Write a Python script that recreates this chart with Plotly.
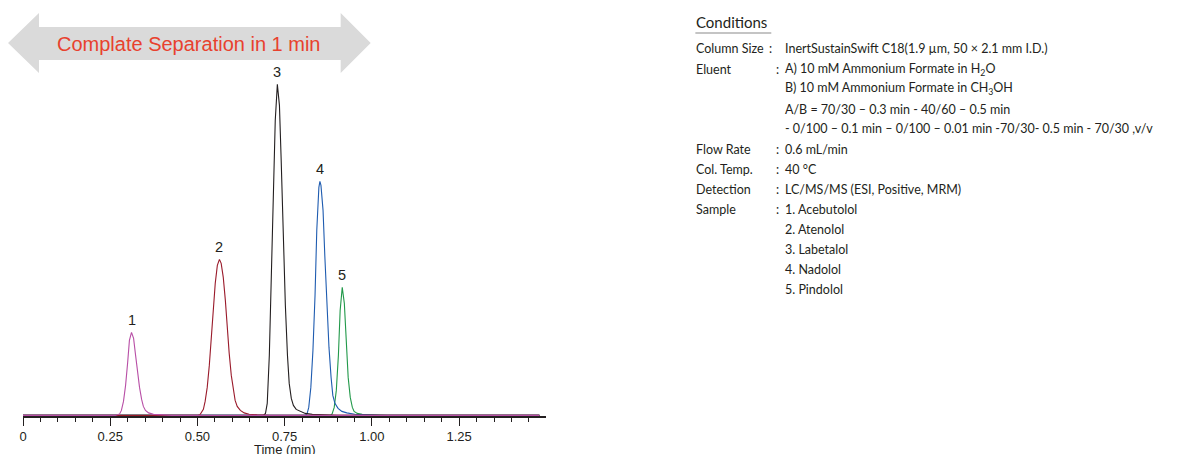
import plotly.graph_objects as go

# retention time (min) / detector response
t_acebutolol = [0.0, 0.265, 0.277, 0.282, 0.288, 0.294, 0.300, 0.305, 0.311, 0.317, 0.322, 0.328,
                0.334, 0.340, 0.345, 0.351, 0.360, 0.374, 0.397, 0.426, 1.48]
y_acebutolol = [0, 0, 1.5, 5, 14, 30, 53, 75, 83, 77, 62, 44,
                28, 16, 9, 5, 2.5, 1, 0.3, 0, 0]

t_atenolol = [0.0, 0.500, 0.508, 0.517, 0.522, 0.528, 0.534, 0.540, 0.545, 0.551, 0.557, 0.563,
              0.568, 0.574, 0.580, 0.585, 0.591, 0.597, 0.603, 0.608, 0.614, 0.623, 0.634,
              0.648, 0.671, 0.706, 1.48]
y_atenolol = [0, 0, 1, 6, 14, 28, 50, 78, 106, 132, 150, 156,
              152, 138, 115, 88, 62, 40, 25, 15, 9, 5, 2.5,
              1.2, 0.5, 0, 0]

t_labetalol = [0.0, 0.689, 0.695, 0.700, 0.706, 0.712, 0.718, 0.723, 0.729, 0.735, 0.740, 0.746,
               0.752, 0.758, 0.763, 0.769, 0.775, 0.783, 0.795, 0.809, 0.829, 0.858, 0.901, 1.48]
y_labetalol = [0, 0, 2, 12, 60, 145, 225, 295, 331, 310, 255, 180,
               110, 60, 32, 17, 10, 6, 4, 2, 1, 0.4, 0, 0]

t_nadolol = [0.0, 0.808, 0.814, 0.819, 0.825, 0.831, 0.837, 0.842, 0.848, 0.851, 0.854, 0.860,
             0.865, 0.871, 0.877, 0.883, 0.888, 0.894, 0.903, 0.914, 0.928, 0.951, 0.980,
             1.023, 1.48]
y_nadolol = [0, 0, 1.5, 8, 28, 65, 120, 185, 228, 234, 230, 205,
             160, 110, 68, 38, 20, 12, 7, 4, 2.5, 1.2, 0.5,
             0, 0]

t_pindolol = [0.0, 0.881, 0.886, 0.892, 0.898, 0.904, 0.909, 0.915, 0.921, 0.926, 0.932, 0.938,
              0.944, 0.949, 0.958, 0.972, 1.001, 1.044, 1.48]
y_pindolol = [0, 0, 1.5, 8, 25, 60, 105, 128, 112, 72, 38, 18,
              8, 4, 2, 1, 0.5, 0, 0]

series = [
    ("5", t_pindolol, y_pindolol, "#22994a"),
    ("4", t_nadolol, y_nadolol, "#1f5cb0"),
    ("3", t_labetalol, y_labetalol, "#231f20"),
    ("2", t_atenolol, y_atenolol, "#9a1b2b"),
    ("1", t_acebutolol, y_acebutolol, "#b84fa6"),
]

tick_vals = [0, 0.25, 0.50, 0.75, 1.00, 1.25]
tick_text = ["0", "0.25", "0.50", "0.75", "1.00", "1.25"]

cond_labels = ["Column Size", "Eluent", "", "", "", "Flow Rate", "Col. Temp.", "Detection",
               "Sample", "", "", "", ""]
cond_values = [
    "InertSustainSwift C18(1.9 µm, 50 × 2.1 mm I.D.)",
    "A) 10 mM Ammonium Formate in H<sub>2</sub>O",
    "B) 10 mM Ammonium Formate in CH<sub>3</sub>OH",
    "A/B = 70/30 – 0.3 min - 40/60 – 0.5 min",
    "- 0/100 – 0.1 min – 0/100 – 0.01 min -70/30- 0.5 min - 70/30 ,v/v",
    "0.6 mL/min",
    "40 °C",
    "LC/MS/MS (ESI, Positive, MRM)",
    "1. Acebutolol",
    "2. Atenolol",
    "3. Labetalol",
    "4. Nadolol",
    "5. Pindolol",
]

# page body has an 8px margin, so the figure is drawn 8px smaller and offset
OFF = 8
W, H = 1178 - OFF, 454 - OFF
L, R, T, B = 23 - OFF, 1178 - 546.5, 0, 38
pw, ph = W - L - R, H - T - B


def px(x):
    return (x - OFF - L) / pw


def py(y):
    return (H - B - (y - OFF)) / ph


fig = go.Figure()
for name, t, y, c in series:
    fig.add_trace(go.Scatter(x=t, y=y, mode="lines", name=name,
                             line=dict(color=c, width=1.1)))
    i = y.index(max(y))
    fig.add_annotation(x=t[i], y=y[i], text=name, showarrow=False, yshift=12,
                       font=dict(family="Arial, Liberation Sans", size=14.5, color="#231f20"))

# grey double arrow banner
pts = [(8, 43), (39, 13), (39, 27), (341, 27), (341, 13), (371, 43),
       (341, 73), (341, 60), (39, 60), (39, 73)]
path = "M " + " L ".join(f"{px(a):.4f},{py(b):.4f}" for a, b in pts) + " Z"
fig.add_shape(type="path", path=path, xref="paper", yref="paper",
              fillcolor="#dadada", line=dict(width=0), layer="below")
fig.add_annotation(x=px(189), y=py(44), xref="paper", yref="paper", showarrow=False,
                   xanchor="center", yanchor="middle",
                   text="Complate Separation in 1 min",
                   font=dict(family="Arial, Liberation Sans", size=20, color="#e8412e"))

# x-axis title sits lower than the margin allows, so place it as an annotation
fig.add_annotation(x=0.5, y=py(450), xref="paper", yref="paper", showarrow=False,
                   xanchor="center", yanchor="middle", text="Time (min)",
                   font=dict(family="Arial, Liberation Sans", size=13, color="#231f20"))

# conditions block
cfont = dict(family="Lato, Noto Sans", size=12.5, color="#231f20")
fig.add_annotation(x=px(695), y=py(22), xref="paper", yref="paper", showarrow=False,
                   xanchor="left", yanchor="middle", text="Conditions",
                   font=dict(family="Lato, Noto Sans", size=15, color="#231f20"))
fig.add_shape(type="line", xref="paper", yref="paper", x0=px(696), x1=px(772),
              y0=py(33), y1=py(33), line=dict(color="#8a8a8a", width=1.2))
for k, (lab, val) in enumerate(zip(cond_labels, cond_values)):
    yy = py(49 + 20 * k)
    if lab:
        fig.add_annotation(x=px(695), y=yy, xref="paper", yref="paper", showarrow=False,
                           xanchor="left", yanchor="middle", text=lab, font=cfont)
        fig.add_annotation(x=px(768 if k == 0 else 775), y=yy, xref="paper", yref="paper",
                           showarrow=False, xanchor="left", yanchor="middle", text=":",
                           font=cfont)
    fig.add_annotation(x=px(784), y=yy, xref="paper", yref="paper", showarrow=False,
                       xanchor="left", yanchor="middle", text=val, font=cfont)

fig.update_layout(
    width=W, height=H, autosize=False,
    margin=dict(l=L, r=R, t=T, b=B, pad=0),
    plot_bgcolor="white", paper_bgcolor="white",
    showlegend=False,
    xaxis=dict(range=[0, 1.499], tickvals=tick_vals, ticktext=tick_text,
               automargin=False,
               ticks="outside", ticklen=8, tickcolor="#231f20", tickwidth=1,
               showline=True, linecolor="#231f20", linewidth=1.5,
               showgrid=False, zeroline=False,
               tickfont=dict(family="Arial, Liberation Sans", size=13, color="#231f20"),
               minor=dict(dtick=0.05, tick0=0, ticks="outside", ticklen=4.5,
                          tickcolor="#231f20", showgrid=False)),
    yaxis=dict(range=[-0.6, ph - 0.6], visible=False, automargin=False),
)

fig.write_html("out.html")
